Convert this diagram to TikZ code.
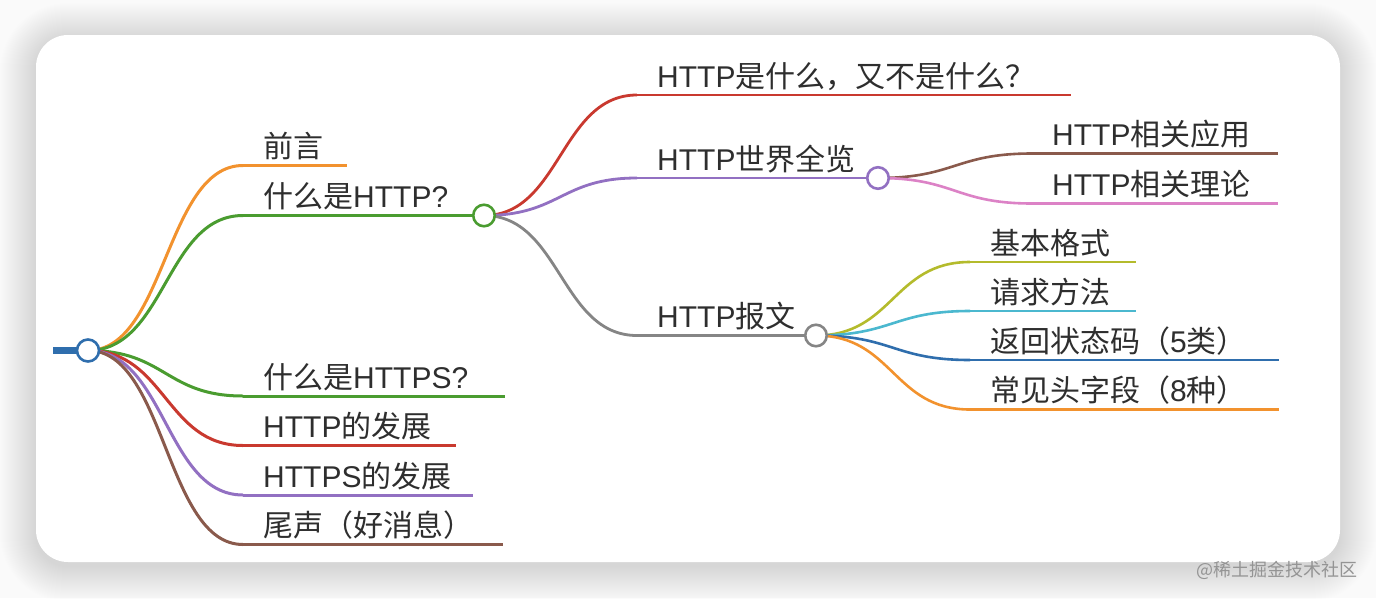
\documentclass[tikz,border=0pt]{standalone}
\usepackage{fontspec}
\setmainfont{Noto Sans CJK SC}
\newfontfamily\lat{Liberation Sans}
\usetikzlibrary{calc}
\definecolor{cblue}{HTML}{2F6EAD}
\definecolor{corange}{HTML}{F2922E}
\definecolor{cgreen}{HTML}{4A9C30}
\definecolor{cred}{HTML}{C9392F}
\definecolor{cpurple}{HTML}{9270C2}
\definecolor{cbrown}{HTML}{8A5A4C}
\definecolor{cpink}{HTML}{DC82C6}
\definecolor{cgray}{HTML}{858585}
\definecolor{colive}{HTML}{B4BB2C}
\definecolor{ccyan}{HTML}{4BB8CF}
\definecolor{ctext}{HTML}{2E2E2E}
\definecolor{pagebg}{HTML}{FAFAFA}
\tikzset{
  link/.style={line width=#1, to path={let \p1=(\tikztostart), \p2=(\tikztotarget) in
     .. controls ({0.5*\x1+0.5*\x2},\y1) and ({0.5*\x1+0.5*\x2},\y2) .. (\tikztotarget)}},
  uline/.style={line width=#1},
  dot/.style={circle, draw=#1, fill=white, line width=2.6pt, minimum size=21.5pt, inner sep=0pt},
  lbl/.style={inner sep=0pt, text=ctext, font=\fontsize{30}{36}\selectfont, anchor=base west},
}
\newcommand\mmbranch[8]{%
  \coordinate (#1s) at (#4,#5);
  \coordinate (#1e) at (#6,#5);
  \draw[link=#8, draw=#2] (#3) to (#1s);
  \draw[uline=#8, draw=#2] (#1s) -- (#1e);
  \node[lbl] (#1) at ({#4+20},{#5-8}) {#7};
}
\begin{document}
\begin{tikzpicture}[x=1pt,y=-1pt]
\useasboundingbox (0,0) rectangle (1376,598);
\fill[pagebg] (0,0) rectangle (1376,598);
% shadow
\foreach \i in {1,...,36}{
  \pgfmathsetmacro\rr{32+\i}
  \fill[black, opacity=0.0045, rounded corners=\rr pt] ({36-\i},{35-\i+4}) rectangle ({1340+\i},{562+\i+4});
}
\fill[white, rounded corners=32pt] (36,35) rectangle (1340,562);
% root
\coordinate (c0) at (88,350.5);
\coordinate (stub) at (53,350.5);
\draw[cblue, line width=6.5pt] (stub) -- (c0);
% level 1
\mmbranch{qy}{corange}{c0}{243}{165.5}{347}{前言}{3pt}
\mmbranch{whttp}{cgreen}{c0}{243}{215.5}{484}{什么是{\lat HTTP?}}{3pt}
\mmbranch{whttps}{cgreen}{c0}{243}{396}{505}{什么是{\lat HTTPS?}}{3pt}
\mmbranch{fz}{cred}{c0}{243}{445.5}{456}{{\lat HTTP}的发展}{3pt}
\mmbranch{sfz}{cpurple}{c0}{243}{495}{473}{{\lat HTTPS}的发展}{3pt}
\mmbranch{ws}{cbrown}{c0}{243}{544.5}{503}{尾声（好消息）}{3pt}
% level 2
\mmbranch{sm}{cred}{whttpe}{637}{95}{1071}{{\lat HTTP}是什么，又不是什么？}{2.8pt}
\mmbranch{sj}{cpurple}{whttpe}{637}{178}{878}{{\lat HTTP}世界全览}{2.8pt}
\mmbranch{bw}{cgray}{whttpe}{637}{335.5}{816}{{\lat HTTP}报文}{2.8pt}
% level 3
\mmbranch{yy}{cbrown}{sje}{1032}{153.5}{1278}{{\lat HTTP}相关应用}{2.6pt}
\mmbranch{ll}{cpink}{sje}{1032}{203.5}{1278}{{\lat HTTP}相关理论}{2.6pt}
\mmbranch{gs}{colive}{bwe}{970}{262}{1136}{基本格式}{2.6pt}
\mmbranch{ff}{ccyan}{bwe}{970}{311}{1136}{请求方法}{2.6pt}
\mmbranch{zt}{cblue}{bwe}{970}{360}{1279}{返回状态码（{\lat 5}类）}{2.6pt}
\mmbranch{tz}{corange}{bwe}{970}{409.5}{1279}{常见头字段（{\lat 8}种）}{2.6pt}
% circles
\node[dot=cblue, minimum size=22pt] (root) at (c0) {};
\node[dot=cgreen] (n1) at (whttpe) {};
\node[dot=cpurple] (n2) at (sje) {};
\node[dot=cgray] (n3) at (bwe) {};
% watermark
\node[anchor=east, inner sep=0pt, text=black!42, font=\fontsize{18}{18}\selectfont] (wm) at (1358,570) {@稀土掘金技术社区};
\end{tikzpicture}
\end{document}
